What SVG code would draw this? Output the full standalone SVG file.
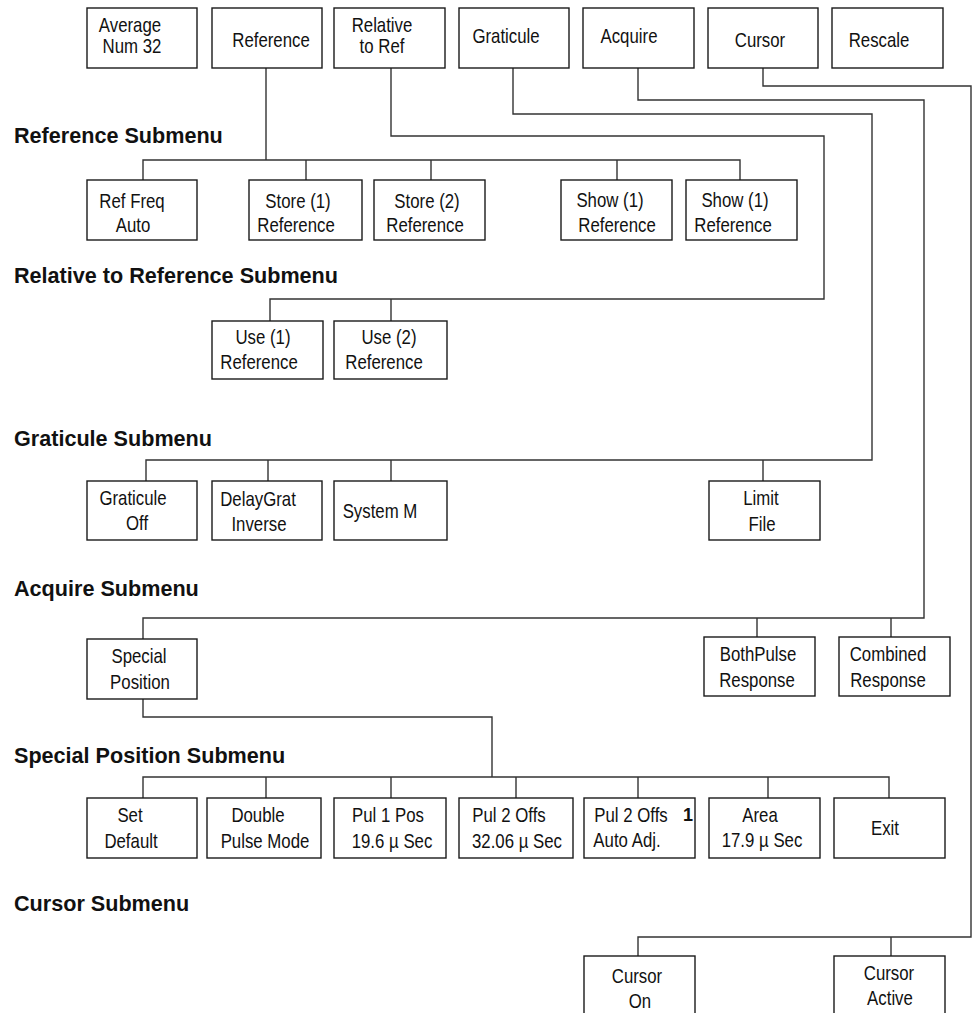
<svg xmlns="http://www.w3.org/2000/svg" width="976" height="1013" viewBox="0 0 976 1013">
<style>
.bg{fill:#fff}
.box{fill:#fff;stroke:#1a1a1a;stroke-width:1.4}
.ln{fill:none;stroke:#333;stroke-width:1.4}
.t{font-family:"Liberation Sans",Arial,sans-serif;font-size:20.5px;fill:#111;text-anchor:middle}
.h{font-family:"Liberation Sans",Arial,sans-serif;font-size:21.6px;font-weight:bold;fill:#111}
.b{font-family:"Liberation Sans",Arial,sans-serif;font-size:18px;font-weight:bold;fill:#111}
</style>
<rect class="bg" x="0" y="0" width="976" height="1013"/>
<g id="connectors">
<path class="ln" d="M266,68V160M143,180V160H740V180M306,160V180M431,160V180M617,160V180"/>
<path class="ln" d="M391,68V136H824V299H270V321M391,299V321"/>
<path class="ln" d="M513,68V114H872V460H146V481M268,460V481M391,460V481M763,460V481"/>
<path class="ln" d="M638,68V100H924V618H143V639M757,618V637M891,618V637"/>
<path class="ln" d="M763,68V86H971V937H638V956M891,937V956"/>
<path class="ln" d="M143,699V717H492V777M143,798V777H889V798M266,777V798M391,777V798M516,777V798M638,777V798M768,777V798"/>
</g>
<g id="headings">
<text class="h" x="14" y="143">Reference Submenu</text>
<text class="h" x="14" y="283">Relative to Reference Submenu</text>
<text class="h" x="14" y="446">Graticule Submenu</text>
<text class="h" x="14" y="596">Acquire Submenu</text>
<text class="h" x="14" y="763">Special Position Submenu</text>
<text class="h" x="14" y="911">Cursor Submenu</text>
</g>
<g id="n-average"><rect class="box" x="87" y="8" width="110" height="60"/><text class="t" transform="translate(130,32) scale(0.82,1)">Average</text><text class="t" transform="translate(132,53) scale(0.82,1)">Num 32</text></g>
<g id="n-reference"><rect class="box" x="212" y="8" width="110" height="60"/><text class="t" transform="translate(271,47) scale(0.82,1)">Reference</text></g>
<g id="n-relative"><rect class="box" x="334" y="8" width="111" height="60"/><text class="t" transform="translate(382,32) scale(0.82,1)">Relative</text><text class="t" transform="translate(382,53) scale(0.82,1)">to Ref</text></g>
<g id="n-graticule"><rect class="box" x="459" y="8" width="110" height="60"/><text class="t" transform="translate(506,43) scale(0.82,1)">Graticule</text></g>
<g id="n-acquire"><rect class="box" x="583" y="8" width="111" height="60"/><text class="t" transform="translate(629,43) scale(0.82,1)">Acquire</text></g>
<g id="n-cursor"><rect class="box" x="708" y="8" width="110" height="60"/><text class="t" transform="translate(760,47) scale(0.82,1)">Cursor</text></g>
<g id="n-rescale"><rect class="box" x="832" y="8" width="111" height="60"/><text class="t" transform="translate(879,47) scale(0.82,1)">Rescale</text></g>

<g id="n-reffreq"><rect class="box" x="87" y="180" width="110" height="60"/><text class="t" transform="translate(132,208) scale(0.82,1)">Ref Freq</text><text class="t" transform="translate(133,232) scale(0.82,1)">Auto</text></g>
<g id="n-store1"><rect class="box" x="249" y="180" width="113" height="60"/><text class="t" transform="translate(298,208) scale(0.82,1)">Store (1)</text><text class="t" transform="translate(296,232) scale(0.82,1)">Reference</text></g>
<g id="n-store2"><rect class="box" x="374" y="180" width="111" height="60"/><text class="t" transform="translate(427,208) scale(0.82,1)">Store (2)</text><text class="t" transform="translate(425,232) scale(0.82,1)">Reference</text></g>
<g id="n-show1"><rect class="box" x="561" y="180" width="111" height="60"/><text class="t" transform="translate(610,207) scale(0.82,1)">Show (1)</text><text class="t" transform="translate(617,232) scale(0.82,1)">Reference</text></g>
<g id="n-show1b"><rect class="box" x="686" y="180" width="111" height="60"/><text class="t" transform="translate(735,207) scale(0.82,1)">Show (1)</text><text class="t" transform="translate(733,232) scale(0.82,1)">Reference</text></g>

<g id="n-use1"><rect class="box" x="212" y="321" width="111" height="58"/><text class="t" transform="translate(263,344) scale(0.82,1)">Use (1)</text><text class="t" transform="translate(259,369) scale(0.82,1)">Reference</text></g>
<g id="n-use2"><rect class="box" x="334" y="321" width="113" height="58"/><text class="t" transform="translate(389,344) scale(0.82,1)">Use (2)</text><text class="t" transform="translate(384,369) scale(0.82,1)">Reference</text></g>

<g id="n-gratoff"><rect class="box" x="87" y="481" width="110" height="59"/><text class="t" transform="translate(133,505) scale(0.82,1)">Graticule</text><text class="t" transform="translate(137,530) scale(0.82,1)">Off</text></g>
<g id="n-delaygrat"><rect class="box" x="212" y="481" width="110" height="59"/><text class="t" transform="translate(258,506) scale(0.82,1)">DelayGrat</text><text class="t" transform="translate(259,531) scale(0.82,1)">Inverse</text></g>
<g id="n-systemm"><rect class="box" x="334" y="481" width="113" height="59"/><text class="t" transform="translate(380,518) scale(0.82,1)">System M</text></g>
<g id="n-limitfile"><rect class="box" x="709" y="481" width="111" height="59"/><text class="t" transform="translate(761,505) scale(0.82,1)">Limit</text><text class="t" transform="translate(762,531) scale(0.82,1)">File</text></g>

<g id="n-specialpos"><rect class="box" x="87" y="639" width="110" height="60"/><text class="t" transform="translate(139,663) scale(0.82,1)">Special</text><text class="t" transform="translate(140,689) scale(0.82,1)">Position</text></g>
<g id="n-bothpulse"><rect class="box" x="704" y="637" width="111" height="59"/><text class="t" transform="translate(758,661) scale(0.82,1)">BothPulse</text><text class="t" transform="translate(757,687) scale(0.82,1)">Response</text></g>
<g id="n-combined"><rect class="box" x="839" y="637" width="111" height="59"/><text class="t" transform="translate(888,661) scale(0.82,1)">Combined</text><text class="t" transform="translate(888,687) scale(0.82,1)">Response</text></g>

<g id="n-setdefault"><rect class="box" x="87" y="798" width="110" height="60"/><text class="t" transform="translate(130,822) scale(0.82,1)">Set</text><text class="t" transform="translate(131,848) scale(0.82,1)">Default</text></g>
<g id="n-double"><rect class="box" x="207" y="798" width="114" height="60"/><text class="t" transform="translate(258,822) scale(0.82,1)">Double</text><text class="t" transform="translate(265,848) scale(0.82,1)">Pulse Mode</text></g>
<g id="n-pul1pos"><rect class="box" x="334" y="798" width="112" height="60"/><text class="t" transform="translate(388,822) scale(0.82,1)">Pul 1 Pos</text><text class="t" transform="translate(392,848) scale(0.82,1)">19.6 µ Sec</text></g>
<g id="n-pul2offs"><rect class="box" x="459" y="798" width="114" height="60"/><text class="t" transform="translate(517,848) scale(0.82,1)">32.06 µ Sec</text><text class="t" transform="translate(509,822) scale(0.82,1)">Pul 2 Offs</text></g>
<g id="n-pul2auto"><rect class="box" x="584" y="798" width="111" height="60"/><text class="t" transform="translate(631,822) scale(0.82,1)">Pul 2 Offs</text><text class="b" x="683" y="821">1</text><text class="t" transform="translate(627,847) scale(0.82,1)">Auto Adj.</text></g>
<g id="n-area"><rect class="box" x="709" y="798" width="111" height="60"/><text class="t" transform="translate(760,822) scale(0.82,1)">Area</text><text class="t" transform="translate(762,847) scale(0.82,1)">17.9 µ Sec</text></g>
<g id="n-exit"><rect class="box" x="834" y="798" width="111" height="60"/><text class="t" transform="translate(885,835) scale(0.82,1)">Exit</text></g>

<g id="n-cursoron"><rect class="box" x="584" y="956" width="111" height="62"/><text class="t" transform="translate(637,983) scale(0.82,1)">Cursor</text><text class="t" transform="translate(640,1008) scale(0.82,1)">On</text></g>
<g id="n-cursoractive"><rect class="box" x="834" y="956" width="111" height="62"/><text class="t" transform="translate(889,980) scale(0.82,1)">Cursor</text><text class="t" transform="translate(890,1005) scale(0.82,1)">Active</text></g>
</svg>
